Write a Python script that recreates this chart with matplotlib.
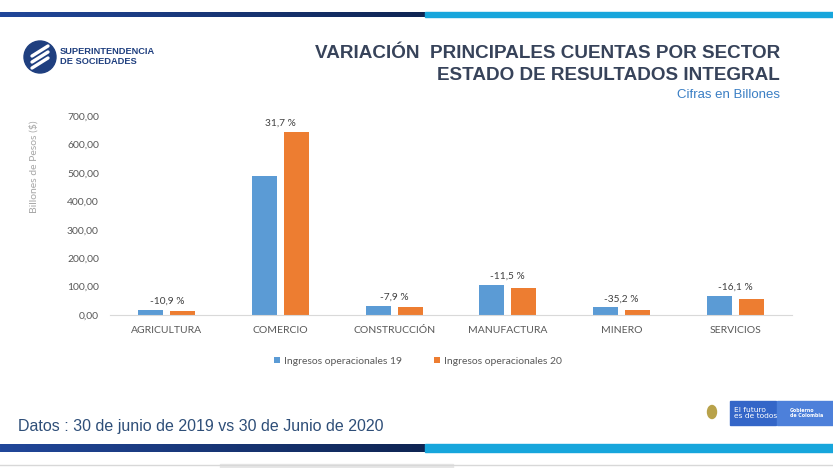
import numpy as np
import matplotlib.pyplot as plt
from matplotlib.patches import Rectangle, Circle, Ellipse
from matplotlib.ticker import FuncFormatter

# Datos del grafico (billones de pesos)
sectores = ['AGRICULTURA', 'COMERCIO', 'CONSTRUCCIÓN', 'MANUFACTURA', 'MINERO', 'SERVICIOS']
ingresos_19 = [17.0, 489.0, 31.5, 105.5, 27.5, 68.0]
ingresos_20 = [15.2, 644.0, 29.0, 93.4, 17.8, 57.0]
variacion = ['-10,9 %', '31,7 %', '-7,9 %', '-11,5 %', '-35,2 %', '-16,1 %']
yticks = [0, 100, 200, 300, 400, 500, 600, 700]

W, H = 833, 468
fig = plt.figure(figsize=(W / 100, H / 100), dpi=100)
fig.patch.set_facecolor('white')

# capa de fondo en pixeles para barras decorativas y logos
bg = fig.add_axes([0, 0, 1, 1])
bg.set_xlim(0, W)
bg.set_ylim(H, 0)
bg.axis('off')

def franja(y0, y1):
    grad = np.linspace(0, 1, 256).reshape(1, -1)
    bg.imshow(grad, extent=(0, 425, y1, y0), aspect='auto',
              cmap=plt.matplotlib.colors.LinearSegmentedColormap.from_list('az', ['#21479a', '#0f2553']),
              zorder=1)
    bg.add_patch(Rectangle((425, y0), W - 425, y1 - y0, color='#17a6dc', zorder=1))

franja(12, 17)
franja(444, 452)
bg.axhline(465, color='#d8d8d8', lw=1)
bg.add_patch(Rectangle((220, 464), 233, 4, color='#e6e6e6'))
bg.set_xlim(0, W)
bg.set_ylim(H, 0)

# logo superintendencia
bg.add_patch(Circle((40, 57), 16, color='#1f3f7f', zorder=2))
for dy in (-6, 0, 6):
    bg.plot([32, 48], [57 + dy + 5, 57 + dy - 5], color='white', lw=2.4,
            solid_capstyle='round', zorder=3)
bg.text(60, 52, 'SUPERINTENDENCIA', fontsize=6.7, fontweight='bold', color='#1f3f7f',
        va='center', family='Liberation Sans')
bg.text(60, 62, 'DE SOCIEDADES', fontsize=6.7, fontweight='bold', color='#1f3f7f',
        va='center', family='Liberation Sans')

# titulos
bg.text(780, 53, 'VARIACIÓN  PRINCIPALES CUENTAS POR SECTOR', fontsize=13.6, fontweight='bold',
        color='#37435a', ha='right', va='center', family='Liberation Sans')
bg.text(780, 75, 'ESTADO DE RESULTADOS INTEGRAL', fontsize=13.6, fontweight='bold',
        color='#37435a', ha='right', va='center', family='Liberation Sans')
bg.text(780, 95, 'Cifras en Billones', fontsize=9.5, color='#3a7ec4',
        ha='right', va='center', family='Liberation Sans')

# pie
bg.text(18, 426, 'Datos : 30 de junio de 2019 vs 30 de Junio de 2020', fontsize=11.5,
        color='#2e4e78', va='center', family='Liberation Sans')
bg.add_patch(Ellipse((712, 412), 9, 13, color='#b8a24a', zorder=2))
bg.add_patch(Rectangle((730, 401), 46, 24, color='#3466c8', zorder=2))
bg.add_patch(Rectangle((777, 401), 56, 24, color='#4d80da', zorder=2))
bg.text(734, 413, 'El futuro\nes de todos', fontsize=5.4, color='white', va='center',
        linespacing=0.9, zorder=3)
bg.text(790, 413, 'Gobierno\nde Colombia', fontsize=3.4, color='white', va='center',
        fontweight='bold', linespacing=0.9, zorder=3)

# grafico de barras
ax = fig.add_axes([110 / W, 1 - 315 / H, (792 - 110) / W, (315 - 116) / H])
x = np.arange(len(sectores))
ancho = 0.22
ax.bar(x - 0.14, ingresos_19, ancho, color='#5b9bd5', label='Ingresos operacionales 19')
ax.bar(x + 0.14, ingresos_20, ancho, color='#ed7d31', label='Ingresos operacionales 20')
for i, txt in enumerate(variacion):
    top = max(ingresos_19[i], ingresos_20[i])
    ax.text(x[i], top + 14, txt, ha='center', va='bottom', fontsize=7.3,
            color='#404040', family='Lato')

ax.set_xlim(-0.5, len(sectores) - 0.5)
ax.set_ylim(0, 700)
ax.set_yticks(yticks)
ax.yaxis.set_major_formatter(FuncFormatter(lambda v, p: f'{v:.2f}'.replace('.', ',')))
ax.set_xticks(x)
ax.set_xticklabels(sectores)
for s in ['top', 'right', 'left']:
    ax.spines[s].set_visible(False)
ax.spines['bottom'].set_color('#d9d9d9')
ax.tick_params(length=0, labelsize=7.5, labelcolor='#595959', pad=8)
for lbl in ax.get_xticklabels() + ax.get_yticklabels():
    lbl.set_family('Lato')
ax.set_ylabel('Billones de Pesos ($)', fontsize=7.5, color='#a6a6a6', family='Lato')
ax.yaxis.set_label_coords(-0.104, 0.745)
ax.patch.set_alpha(0)

leg = fig.legend(loc='center', bbox_to_anchor=(418 / W, 1 - 361 / H), ncol=2, frameon=False,
                 handlelength=0.6, handleheight=0.6, columnspacing=3,
                 handletextpad=0.4, prop={'family': 'Lato', 'size': 7.5})
for t in leg.get_texts():
    t.set_color('#595959')

fig.savefig('out.png', dpi=100)
